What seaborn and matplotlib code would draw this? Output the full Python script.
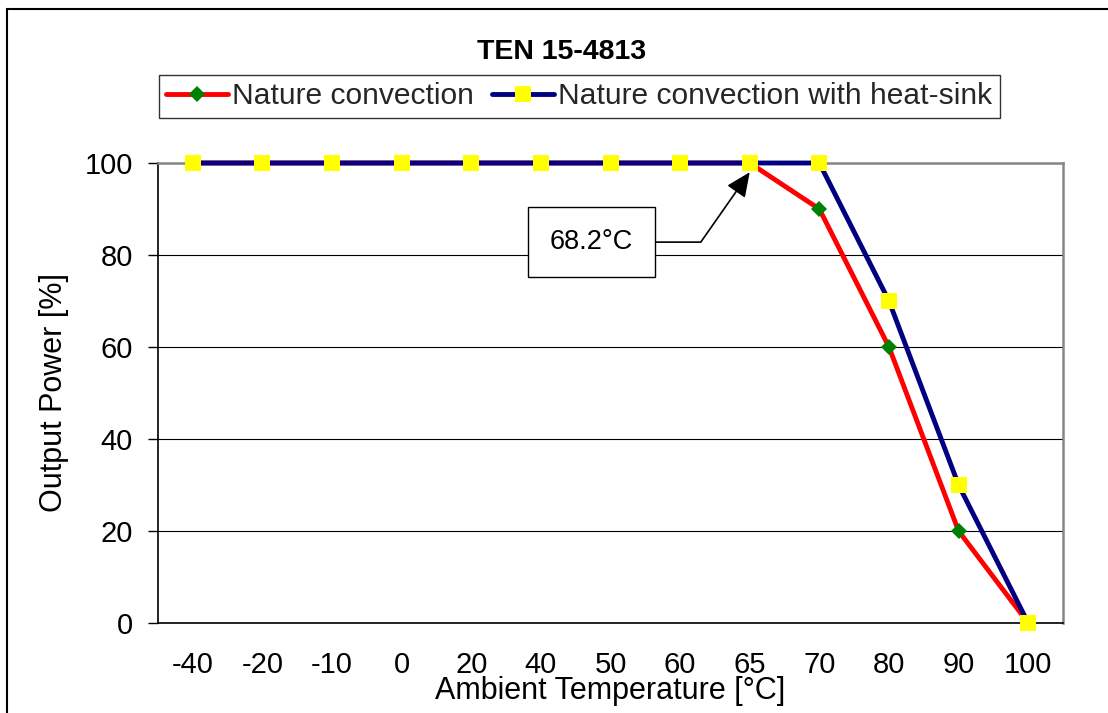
import matplotlib
matplotlib.use("Agg")
import matplotlib.pyplot as plt
from matplotlib.patches import Rectangle
from matplotlib.ticker import FixedLocator, NullFormatter
import seaborn as sns
import pandas as pd

# ---- data ----
temperatures = ["-40", "-20", "-10", "0", "20", "40", "50", "60", "65", "70", "80", "90", "100"]
nature_convection = [100, 100, 100, 100, 100, 100, 100, 100, 100, 90, 60, 20, 0]
with_heat_sink = [100, 100, 100, 100, 100, 100, 100, 100, 100, 100, 70, 30, 0]
y_ticks = [0, 20, 40, 60, 80, 100]
title = "TEN 15-4813"
series_names = ["Nature convection", "Nature convection with heat-sink"]
annotation_text = "68.2°C"

sns.set_theme(style="white")
plt.rcParams["font.family"] = ["Liberation Sans", "DejaVu Sans"]

W, H = 1108, 713
fig = plt.figure(figsize=(W / 100, H / 100), dpi=100)
fig.patch.set_facecolor("white")
ax = fig.add_axes([158 / W, (H - 623) / H, (1063 - 158) / W, 460 / H])

df = pd.DataFrame({"temp": temperatures, "nc": nature_convection, "hs": with_heat_sink})

sns.lineplot(data=df, x="temp", y="nc", ax=ax, sort=False, color="#FF0000", lw=3.5,
             marker="D", ms=8.0, mfc="#008000", mec="#008000", mew=0,
             label=series_names[0], clip_on=False, zorder=3)
sns.lineplot(data=df, x="temp", y="hs", ax=ax, sort=False, color="#000080", lw=3.5,
             marker="s", ms=11.0, mfc="#FFFF00", mec="#FFFF00", mew=0,
             label=series_names[1], clip_on=False, zorder=4)

n = len(temperatures)
ax.set_xlim(-0.5, n - 0.5)
ax.set_ylim(0, 100)
ax.set_yticks(y_ticks)
ax.set_yticklabels([str(v) for v in y_ticks])
ax.set_xticks(range(n))
ax.set_xticklabels(temperatures)
ax.xaxis.set_minor_locator(FixedLocator([i - 0.5 for i in range(n + 1)]))
ax.xaxis.set_minor_formatter(NullFormatter())

ax.tick_params(axis="x", which="major", length=0, pad=20, labelsize=21, colors="black")
ax.tick_params(axis="x", which="minor", length=14, width=1.0, direction="inout", color="black")
ax.tick_params(axis="y", which="major", length=7.5, width=1.0, direction="out", pad=10.5,
               labelsize=21, colors="black", left=True)

ax.yaxis.grid(True, color="black", lw=0.8)
ax.xaxis.grid(False)
ax.set_axisbelow(True)

for side in ["left", "bottom"]:
    ax.spines[side].set_color("black")
    ax.spines[side].set_linewidth(1.2)
for side in ["top", "right"]:
    ax.spines[side].set_color("#868686")
    ax.spines[side].set_linewidth(1.8)
    ax.spines[side].set_visible(True)

ax.set_xlabel("Ambient Temperature [°C]", fontsize=22, labelpad=-2, color="black")
ax.set_ylabel("Output Power [%]", fontsize=22, labelpad=11, color="black")

handles, labels = ax.get_legend_handles_labels()
leg = fig.legend(handles, labels, ncol=2, loc="center",
                 bbox_to_anchor=(579.5 / W, 1 - 96.5 / H), fontsize=21.6,
                 frameon=True, fancybox=False, shadow=False, edgecolor="black",
                 handlelength=2.05, handletextpad=0.15, columnspacing=0.6,
                 borderpad=0.24, borderaxespad=0, numpoints=1)
leg.get_frame().set_linewidth(1.0)
if ax.get_legend() is not None:
    ax.get_legend().remove()

ax.annotate(annotation_text, xy=(8.0, 98.0), xytext=(5.73, 82.8),
            fontsize=19.5, ha="center", va="center", color="black",
            bbox=dict(boxstyle="square,pad=0.8", fc="white", ec="black", lw=1.0),
            arrowprops=dict(arrowstyle="-|>,head_length=1.0,head_width=0.45",
                            connectionstyle="angle,angleA=0,angleB=55,rad=0",
                            color="black", lw=1.2, mutation_scale=15,
                            shrinkA=0, shrinkB=0),
            zorder=6)

fig.text(562 / W, 1 - 59.3 / H, title, ha="center", va="baseline",
         fontsize=20.5, fontweight="bold", color="black")

fig.add_artist(Rectangle((7 / W, -0.1), 1.2, (1 - 9 / H) + 0.1,
                         transform=fig.transFigure, fill=False,
                         ec="black", lw=1.5))

fig.savefig("out.png", dpi=100)
